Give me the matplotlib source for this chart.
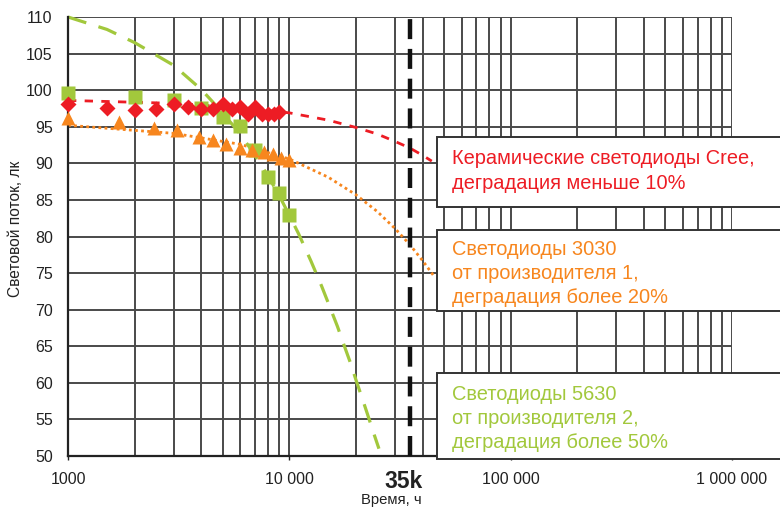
import os
import matplotlib
matplotlib.use("Agg")
import matplotlib.pyplot as plt
import matplotlib.font_manager as fm
from matplotlib.patches import Rectangle
from matplotlib.ticker import FixedLocator, NullFormatter, LogLocator

# ---- data ----
red_x = [1000, 1500, 2000, 2500, 3000, 3500, 4000, 4500, 5000, 5500, 6000, 6500, 7000, 7500, 8000, 8500, 9000]
red_y = [98.1, 97.6, 97.3, 97.4, 98.1, 97.7, 97.4, 97.4, 98.1, 97.4, 97.7, 96.8, 97.7, 96.7, 96.8, 96.8, 97.0]

orange_x = [1000, 1700, 2450, 3100, 3900, 4500, 5200, 6000, 6800, 7700, 8400, 9200, 10000]
orange_y = [96.2, 95.6, 94.8, 94.6, 93.6, 93.2, 92.7, 92.1, 91.8, 91.6, 91.3, 90.7, 90.4]

green_x = [1000, 2000, 3000, 4000, 5000, 6000, 7000, 8000, 9000, 10000]
green_y = [99.6, 99.1, 98.6, 97.5, 96.4, 95.1, 91.8, 88.2, 85.9, 82.9]

# trend lines
red_trend_x = [1000, 3000, 6000, 10000, 15000, 20000, 25000, 30000, 35000, 40000, 44000]
red_trend_y = [98.6, 98.2, 97.6, 96.9, 95.9, 94.9, 94.0, 93.0, 92.1, 91.1, 90.3]

orange_trend_x = [1000, 3000, 6000, 10000, 15000, 20000, 25000, 30000, 35000, 40000, 45000]
orange_trend_y = [95.2, 94.1, 92.6, 90.6, 88.1, 85.7, 83.4, 81.1, 78.9, 76.7, 74.6]

green_trend_x = [1000, 1500, 2000, 3000, 4000, 5000, 6000, 7000, 8000, 9000, 10000, 11000, 12500,
                 14000, 15000, 16500, 17500, 19000, 20000, 21500, 22500, 24000, 25400]
green_trend_y = [110.0, 108.3, 106.5, 103.4, 100.1, 96.9, 94.0, 91.1, 88.3, 85.6, 82.9, 80.4, 76.7,
                 73.2, 70.9, 67.7, 65.5, 62.5, 60.4, 57.6, 55.8, 53.2, 51.0]

marker_line_x = 35000

x_ticks = [1000, 10000, 100000, 1000000]
x_tick_labels = ["1000", "10 000", "100 000", "1 000 000"]
y_ticks = list(range(50, 111, 5))

labels = ["Керамические светодиоды Cree,\nдеградация меньше 10%",
          "Светодиоды 3030\nот производителя 1,\nдеградация более 20%",
          "Светодиоды 5630\nот производителя 2,\nдеградация более 50%"]

RED = '#ED1C24'
ORANGE = '#F7861E'
GREEN = '#A2C83C'
GRID = '#4a4a4a'


def find_font(basename):
    for f in fm.fontManager.ttflist:
        if os.path.basename(f.fname).lower() == basename:
            return f.fname
    return None


reg_path = find_font('liberationsans-regular.ttf')
bold_path = find_font('liberationsans-bold.ttf')


def fp(size, bold=False):
    path = bold_path if bold else reg_path
    if path:
        return fm.FontProperties(fname=path, size=size)
    return fm.FontProperties(family='Liberation Sans', size=size,
                             weight='bold' if bold else 'normal')


W, H = 780, 509
fig = plt.figure(figsize=(W / 100, H / 100), dpi=100)
ax = fig.add_axes([68 / W, 1 - 456 / H, (732 - 68) / W, (456 - 17) / H])

ax.set_xscale('log')
ax.set_xlim(1000, 1000000)
ax.set_ylim(50, 110)

# grid
ax.xaxis.set_major_locator(FixedLocator(x_ticks))
ax.xaxis.set_minor_locator(LogLocator(base=10, subs=range(2, 10), numticks=20))
ax.xaxis.set_minor_formatter(NullFormatter())
ax.set_xticklabels(x_tick_labels)
ax.set_yticks(y_ticks)
ax.grid(True, which='both', axis='x', color=GRID, lw=1.4, zorder=0)
ax.grid(True, which='major', axis='y', color=GRID, lw=1.4, zorder=0)
ax.set_axisbelow(True)

for s in ['top', 'right']:
    ax.spines[s].set_visible(False)
for s in ['left', 'bottom']:
    ax.spines[s].set_color('#222222')
    ax.spines[s].set_linewidth(1.6)

ax.tick_params(axis='x', which='major', length=3, width=1, color='#222222', pad=8.5,
               labelcolor='#222222')
ax.tick_params(axis='x', which='minor', length=0)
ax.tick_params(axis='y', length=0, pad=11, labelcolor='#222222')
for lab in ax.get_xticklabels() + ax.get_yticklabels():
    lab.set_fontproperties(fp(11.5))

# 35k line
ax.axvline(marker_line_x, color='#111111', lw=3.2, dashes=(4.5, 2.2), zorder=3)

# trend lines
ax.plot(red_trend_x, red_trend_y, color=RED, lw=2, dashes=(3, 3), zorder=2)
ax.plot(orange_trend_x, orange_trend_y, color=ORANGE, lw=2, dashes=(1, 1.2), zorder=2)
ax.plot(green_trend_x, green_trend_y, color=GREEN, lw=2.3, dashes=(6, 4), zorder=2, clip_on=False)

# markers
ax.plot(green_x, green_y, 's', color=GREEN, ms=9.5, mec='none', zorder=4, clip_on=False)
ax.plot(orange_x, orange_y, '^', color=ORANGE, ms=10, mec='none', zorder=5, clip_on=False)
ax.plot(red_x, red_y, 'D', color=RED, ms=8, mec='none', zorder=6, clip_on=False)

# axis labels
fig.text(16 / W, 1 - 229 / H, "Световой поток, лк", rotation=90, ha='center', va='center',
         fontproperties=fp(11.2), color='#222222')
fig.text(391 / W, 1 - 500 / H, "Время, ч", ha='center', va='center', fontproperties=fp(10.7),
         color='#222222')
fig.text(404 / W, 1 - 481 / H, "35k", ha='center', va='center',
         fontproperties=fp(16.5, bold=True), color='#222222')

# annotation boxes
boxes = [(137, 207, 171, RED), (230, 311, 273.5, ORANGE), (373, 459, 418.5, GREEN)]
for (top, bottom, center, col), lab in zip(boxes, labels):
    fig.add_artist(Rectangle((437 / W, 1 - bottom / H), (W + 20 - 437) / W, (bottom - top) / H,
                             transform=fig.transFigure, facecolor='white', edgecolor='#333333',
                             lw=1.4, zorder=10, clip_on=False))
    fig.text(452 / W, 1 - center / H, lab, ha='left', va='center', fontproperties=fp(14.4),
             color=col, linespacing=1.35, zorder=11)

fig.savefig("out.png", dpi=100)
